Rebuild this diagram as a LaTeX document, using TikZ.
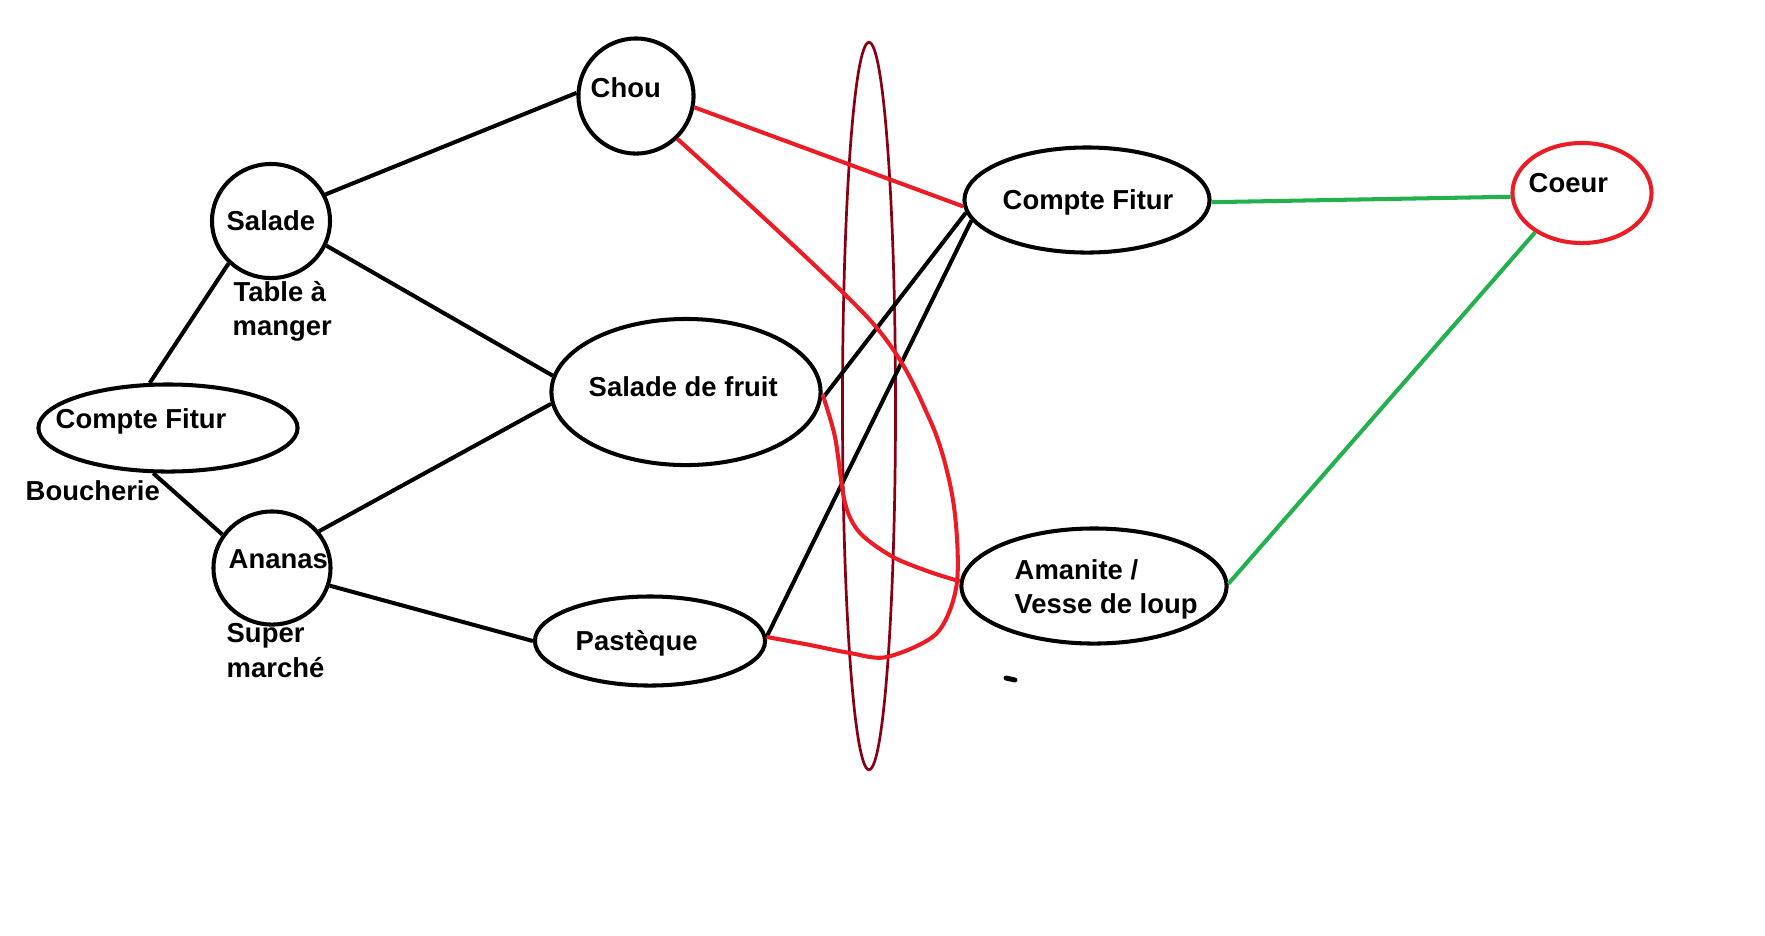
\documentclass[tikz,border=0pt]{standalone}
\usepackage{fontspec}
\setmainfont{Liberation Sans}
\usetikzlibrary{shapes.geometric}
\definecolor{pred}{HTML}{ED1C24}
\definecolor{pgreen}{HTML}{22B14C}
\definecolor{pdark}{HTML}{880015}
\begin{document}
\begin{tikzpicture}[x=0.01cm,y=-0.01cm,
  blob/.style={draw, ellipse, line width=1.15pt, inner sep=0pt},
  lbl/.style={anchor=base west, inner sep=0pt, font=\fontsize{7.8}{9}\selectfont\bfseries},
  blk/.style={draw=black, line width=1.15pt},
  redl/.style={draw=pred, line width=1.15pt},
  grn/.style={draw=pgreen, line width=1.15pt}]
\fill[white] (0,0) rectangle (1765,935);
\useasboundingbox (0,0) rectangle (1765,935);

% shapes
\node[blob, minimum width=1.15cm, minimum height=1.15cm] (chou) at (636,96) {};
\node[blob, minimum width=1.18cm, minimum height=1.14cm] (salade) at (271,221) {};
\node[blob, minimum width=2.59cm, minimum height=0.87cm] (cfl) at (168,428) {};
\node[blob, minimum width=1.17cm, minimum height=1.13cm] (ananas) at (272,568) {};
\node[blob, minimum width=2.69cm, minimum height=1.46cm] (sdf) at (686,392) {};
\node[blob, minimum width=2.30cm, minimum height=0.89cm] (pas) at (650,641) {};
\node[blob, minimum width=2.45cm, minimum height=1.05cm] (cfr) at (1087,200) {};
\node[blob, minimum width=2.65cm, minimum height=1.15cm] (ama) at (1094,586) {};
\node[blob, draw=pred, minimum width=1.39cm, minimum height=1.00cm] (coeur) at (1582,193) {};
\node[draw=pdark, ellipse, line width=0.77pt, inner sep=0pt, minimum width=0.53cm, minimum height=7.27cm] (ring) at (869,406) {};

% texts
\node[lbl] (tchou) at (590,97) {Chou};
\node[lbl] (tsalade) at (226,230) {Salade};
\node[lbl] (ttable1) at (233,301) {Table à};
\node[lbl] (ttable2) at (232,335) {manger};
\node[lbl] (tcfl) at (55,428) {Compte Fitur};
\node[lbl] (tbouch) at (25,500) {Boucherie};
\node[lbl] (tananas) at (228,568) {Ananas};
\node[lbl] (tsuper1) at (226,642) {Super};
\node[lbl] (tsuper2) at (226,677) {marché};
\node[lbl] (tsdf) at (588,396) {Salade de fruit};
\node[lbl] (tpas) at (575,650) {Pastèque};
\node[lbl] (tcfr) at (1002,209) {Compte Fitur};
\node[lbl] (tama1) at (1014,579) {Amanite /};
\node[lbl] (tama2) at (1014,613) {Vesse de loup};
\node[lbl] (tcoeur) at (1528,192) {Coeur};

% black connectors
\draw[blk] (salade.26) -- (chou.177);
\draw[blk] (salade.-24) -- (sdf.173);
\draw[blk] (ananas.38) -- (sdf.185);
\draw[blk] (ananas.-17) -- (pas.180);
\draw[blk] (cfl.112) -- (salade.225);
\draw[blk] (cfl.252) -- (ananas.146);
\draw[blk] (sdf.-3) -- (cfr.186);
\draw[blk] (pas.2) -- (cfr.190);

% red connectors
\draw[redl] (chou.-11) -- (cfr.183);
\draw[redl] plot[smooth] coordinates {(chou.-46) (870,320) (930,420) (953,500) (957,582) (937,633) (887,657) (850,653) (810,645) (pas.2)};
\draw[redl] plot[smooth] coordinates {(sdf.-1) (835,437) (845,503) (860,533) (893,557) (930,572) (ama.178)};

% green connectors
\draw[grn] (cfr.-1.5) -- (coeur.183);
\draw[grn] (ama.1) -- (coeur.220);

% stray mark
\draw[line width=1.4pt, line cap=round] (1006,678) -- (1015,680);
\end{tikzpicture}
\end{document}
